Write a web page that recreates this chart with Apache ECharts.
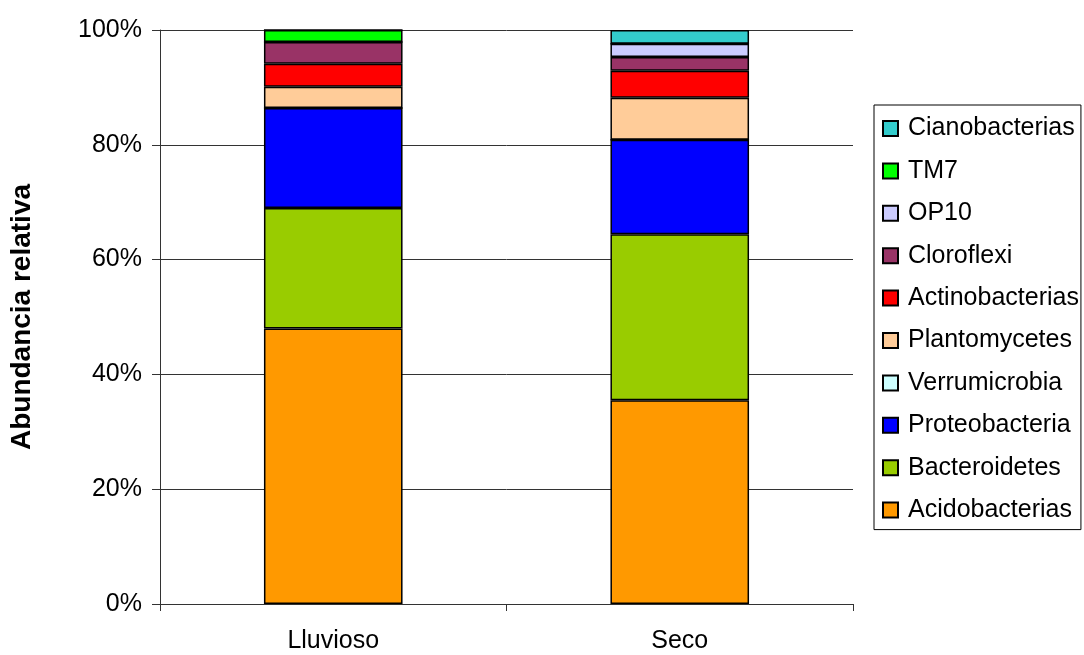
<!DOCTYPE html>
<html>
<head>
<meta charset="utf-8">
<script src="https://cdn.jsdelivr.net/npm/echarts@6/dist/echarts.min.js"></script>
<style>
html,body{margin:0;padding:0;background:#fff;}
#chart{width:1084px;height:655px;}
</style>
</head>
<body>
<div id="chart"></div>
<script>
const categories = ['Lluvioso', 'Seco'];
const seriesNames = ['Acidobacterias','Bacteroidetes','Proteobacteria','Verrumicrobia','Plantomycetes','Actinobacterias','Cloroflexi','OP10','TM7','Cianobacterias'];
const acidobacterias = [48.0, 35.5];
const bacteroidetes = [21.0, 28.9];
const proteobacteria = [17.4, 16.5];
const verrumicrobia = [0, 0];
const plantomycetes = [3.7, 7.3];
const actinobacterias = [4.0, 4.7];
const cloroflexi = [3.8, 2.4];
const op10 = [0, 2.3];
const tm7 = [2.1, 0];
const cianobacterias = [0, 2.4];
const yTicks = [0, 20, 40, 60, 80, 100];
const colors = ['#FF9900','#99CC00','#0000FF','#CCFFFF','#FFCC99','#FF0000','#993366','#CCCCFF','#00FF00','#33CCCC'];
const values = [acidobacterias, bacteroidetes, proteobacteria, verrumicrobia, plantomycetes, actinobacterias, cloroflexi, op10, tm7, cianobacterias];

const font = 'Liberation Sans, Arial, sans-serif';
const chart = echarts.init(document.getElementById('chart'), null, {renderer: 'canvas'});
chart.setOption({
  animation: false,
  backgroundColor: '#fff',
  grid: {left: 160, right: 231, top: 30, bottom: 51, containLabel: false},
  legend: {
    orient: 'vertical',
    left: 874, top: 105,
    data: seriesNames.slice().reverse(),
    icon: 'rect',
    itemWidth: 15, itemHeight: 15,
    itemGap: 17.4,
    padding: [11, 2, 7, 8],
    borderColor: '#000', borderWidth: 1,
    textStyle: {fontFamily: font, fontSize: 25, color: '#000', lineHeight: 25, padding: [0, 0, 0, 5]},
    selectedMode: false
  },
  xAxis: {
    type: 'category',
    data: categories,
    axisLine: {lineStyle: {color: '#333', width: 1}},
    axisTick: {show: true, alignWithLabel: false, length: 7, lineStyle: {color: '#333'}},
    axisLabel: {fontFamily: font, fontSize: 25, color: '#000', margin: 25}
  },
  yAxis: {
    type: 'value',
    min: 0, max: 100, interval: 20,
    name: 'Abundancia relativa',
    nameLocation: 'middle',
    nameGap: 124,
    nameTextStyle: {fontFamily: font, fontSize: 28, fontWeight: 'bold', color: '#000'},
    axisLine: {show: true, lineStyle: {color: '#333', width: 1}},
    axisTick: {show: true, length: 8, lineStyle: {color: '#333'}},
    splitLine: {lineStyle: {color: '#333', width: 1}},
    axisLabel: {fontFamily: font, fontSize: 25, color: '#000', margin: 18,
      formatter: v => yTicks.includes(v) ? v + '%' : ''}
  },
  series: seriesNames.map((n, i) => ({
    name: n,
    type: 'bar',
    stack: 'total',
    barWidth: '40%',
    data: values[i],
    itemStyle: {color: colors[i], borderColor: '#000', borderWidth: 1.5}
  }))
});
</script>
</body>
</html>
